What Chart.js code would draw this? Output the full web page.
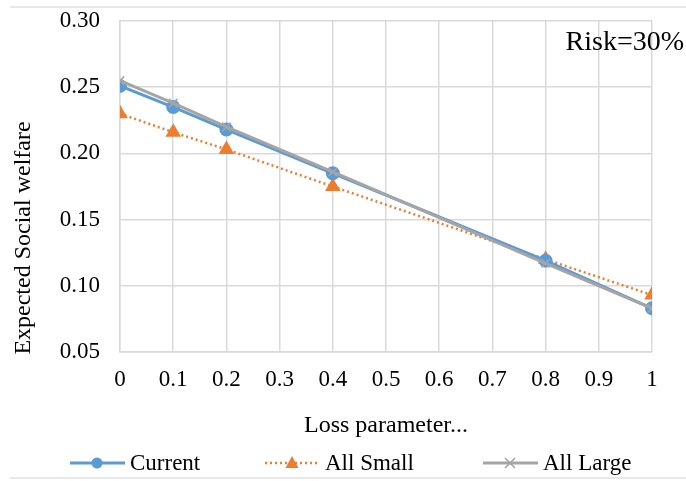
<!DOCTYPE html>
<html>
<head>
<meta charset="utf-8">
<script src="https://cdn.jsdelivr.net/npm/chart.js@4"></script>
<style>
  html, body { margin: 0; padding: 0; background: #fff; }
  #wrap { position: relative; width: 686px; height: 481px; }
  #frame { position: absolute; left: 10px; right: 0; top: 6px; bottom: 2px;
           border-top: 2px solid #e8e8e8; border-bottom: 2px solid #e8e8e8; }
  canvas { position: absolute; left: 0; top: 0; }
</style>
</head>
<body>
<div id="wrap">
  <div id="frame"></div>
  <canvas id="chart" width="686" height="481"></canvas>
</div>
<script>
// valeurs
const lossParam = [0, 0.1, 0.2, 0.4, 0.8, 1];
const current  = [0.251, 0.235, 0.218, 0.185, 0.119, 0.083];
const allSmall = [0.230, 0.216, 0.203, 0.175, 0.120, 0.093];
const allLarge = [0.255, 0.238, 0.220, 0.186, 0.117, 0.083];
const seriesNames = ['Current', 'All Small', 'All Large'];
const noteText = 'Risk=30%';
const yTitle = 'Expected Social welfare';

const FONT = "'Liberation Serif', 'Times New Roman', serif";
const BLUE = '#5b9bd5', ORANGE = '#ed7d31', GREY = '#a5a5a5';

function pts(ys) {
    return lossParam.map((x, i) => ({ x: x, y: ys[i] }));
}

// position de chaque entrée de légende (début de la ligne)
const legendX = [70, 265, 483];
const legendY = 463;

function drawMarker(g, kind, x, y, color) {
    g.fillStyle = color;
    g.strokeStyle = color;
    g.setLineDash([]);
    if (kind === 'circle') {
        g.beginPath(); g.arc(x, y, 5.5, 0, Math.PI * 2); g.fill();
    } else if (kind === 'triangle') {
        g.beginPath(); g.moveTo(x, y - 7); g.lineTo(x + 6.5, y + 5); g.lineTo(x - 6.5, y + 5); g.closePath(); g.fill();
    } else {
        g.lineWidth = 1.6;
        g.beginPath(); g.moveTo(x - 5, y - 5); g.lineTo(x + 5, y + 5); g.moveTo(x + 5, y - 5); g.lineTo(x - 5, y + 5); g.stroke();
    }
}

const legendPlugin = {
    id: 'excelLegend',
    afterDraw(chart) {
        const g = chart.ctx;
        const ds = chart.data.datasets;
        const kinds = ['circle', 'triangle', 'cross'];
        g.save();
        ds.forEach((d, i) => {
            const x0 = legendX[i];
            g.strokeStyle = d.borderColor;
            g.lineWidth = d.borderWidth;
            g.setLineDash(d.borderDash || []);
            g.beginPath(); g.moveTo(x0, legendY); g.lineTo(x0 + 55, legendY); g.stroke();
            drawMarker(g, kinds[i], x0 + 27, legendY, d.borderColor);
            g.font = '23px ' + FONT;
            g.fillStyle = '#000';
            g.textAlign = 'left';
            g.textBaseline = 'middle';
            g.fillText(d.label, x0 + 60, legendY + 1);
        });
        // annotation en haut à droite
        g.font = '28px ' + FONT;
        g.textAlign = 'right';
        g.textBaseline = 'alphabetic';
        g.fillText(noteText, 684, 50);
        // titre de l'axe Y (décalé vers le bas comme dans Excel)
        g.translate(24, 238);
        g.rotate(-Math.PI / 2);
        g.font = '24px ' + FONT;
        g.textAlign = 'center';
        g.textBaseline = 'middle';
        g.fillText(yTitle, 0, 0);
        g.restore();
    }
};

new Chart(document.getElementById('chart'), {
    type: 'line',
    data: {
        datasets: [{
            label: seriesNames[0],
            data: pts(current),
            borderColor: BLUE,
            backgroundColor: BLUE,
            borderWidth: 3,
            pointStyle: 'circle',
            pointRadius: 5.5,
            order: 2
        }, {
            label: seriesNames[1],
            data: pts(allSmall),
            borderColor: ORANGE,
            backgroundColor: ORANGE,
            borderWidth: 2.5,
            borderDash: [2, 3],
            pointStyle: 'triangle',
            pointRadius: 6.5,
            order: 3
        }, {
            label: seriesNames[2],
            data: pts(allLarge),
            borderColor: GREY,
            backgroundColor: GREY,
            borderWidth: 3,
            pointStyle: 'crossRot',
            pointRadius: 6,
            pointBorderWidth: 1.6,
            order: 1
        }]
    },
    options: {
        responsive: false,
        animation: false,
        layout: { padding: { left: 0, right: 34, top: 21, bottom: 41 } },
        scales: {
            x: {
                type: 'linear',
                min: 0, max: 1,
                ticks: {
                    stepSize: 0.1,
                    color: '#000',
                    font: { family: FONT, size: 23 },
                    padding: 14,
                    callback: v => String(Math.round(v * 10) / 10)
                },
                grid: { color: '#d9d9d9', lineWidth: 1.5, drawTicks: false },
                border: { color: '#d9d9d9', width: 1.5 },
                title: {
                    display: true,
                    text: 'Loss parameter...',
                    color: '#000',
                    font: { family: FONT, size: 24 },
                    padding: { top: 14, bottom: 0 }
                },
                afterFit(scale) { scale.height = 88; }
            },
            y: {
                min: 0.05, max: 0.30,
                ticks: {
                    stepSize: 0.05,
                    color: '#000',
                    font: { family: FONT, size: 23 },
                    padding: 20,
                    callback: v => v.toFixed(2)
                },
                grid: { color: '#d9d9d9', lineWidth: 1.5, drawTicks: false },
                border: { color: '#d9d9d9', width: 1.5 },
                afterFit(scale) {
                    scale.width = 120;
                    scale.paddingTop = 0;
                    scale.paddingBottom = 0;
                }
            }
        },
        plugins: {
            legend: { display: false },
            tooltip: { enabled: false }
        }
    },
    plugins: [legendPlugin]
});
</script>
</body>
</html>
